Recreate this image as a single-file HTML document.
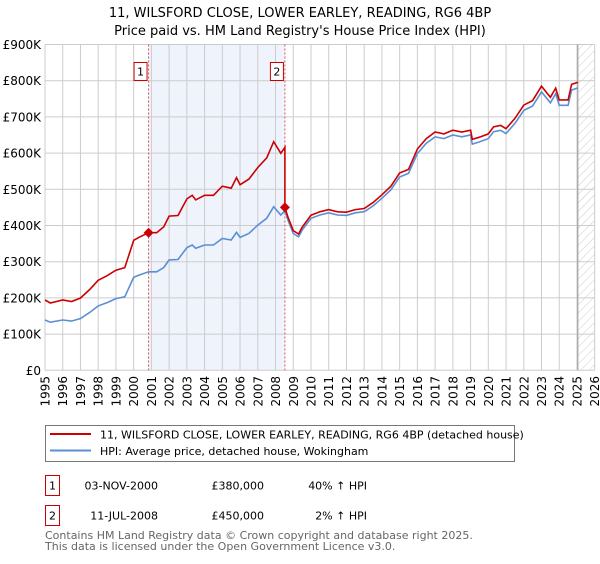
<!DOCTYPE html>
<html><head><meta charset="utf-8"><style>
body{margin:0;background:#fff;width:600px;height:560px;overflow:hidden;font-family:"DejaVu Sans","Liberation Sans",sans-serif;}
</style></head><body>
<svg id="chart" width="600" height="560" xmlns="http://www.w3.org/2000/svg" font-family="DejaVu Sans, Liberation Sans, sans-serif">
<text x="300" y="17" text-anchor="middle" font-size="13">11, WILSFORD CLOSE, LOWER EARLEY, READING, RG6 4BP</text>
<text x="300" y="35" text-anchor="middle" font-size="13">Price paid vs. HM Land Registry's House Price Index (HPI)</text>
<defs><pattern id="hatch" width="6" height="6" patternUnits="userSpaceOnUse" patternTransform="rotate(45)"><line x1="0" y1="0" x2="0" y2="6" stroke="#ccc" stroke-width="1"/></pattern></defs>
<g id="grid"></g><g id="marks"></g><g id="axes"></g>
<g>
<rect x="45.5" y="425.5" width="469" height="36" fill="#fff" stroke="#777"/>
<line x1="50" y1="434" x2="91" y2="434" stroke="#cc0000" stroke-width="2"/>
<text x="100" y="438.5" font-size="11">11, WILSFORD CLOSE, LOWER EARLEY, READING, RG6 4BP (detached house)</text>
<line x1="50" y1="450.5" x2="91" y2="450.5" stroke="#5b8fd4" stroke-width="2"/>
<text x="100" y="455" font-size="11">HPI: Average price, detached house, Wokingham</text>
</g>
<g font-size="11">
<rect x="45.5" y="475.5" width="14" height="20" fill="#fff" stroke="#cc0000"/>
<text x="52.5" y="489.5" text-anchor="middle">1</text>
<text x="158" y="489.5" text-anchor="end">03-NOV-2000</text>
<text x="264" y="489.5" text-anchor="end">£380,000</text>
<text x="367" y="489.5" text-anchor="end">40% ↑ HPI</text>
<rect x="45.5" y="505.5" width="14" height="20" fill="#fff" stroke="#cc0000"/>
<text x="52.5" y="519.5" text-anchor="middle">2</text>
<text x="158" y="519.5" text-anchor="end">11-JUL-2008</text>
<text x="264" y="519.5" text-anchor="end">£450,000</text>
<text x="367" y="519.5" text-anchor="end">2% ↑ HPI</text>
</g>
<text x="45" y="539" font-size="11" fill="#666">Contains HM Land Registry data © Crown copyright and database right 2025.</text>
<text x="45" y="550" font-size="11" fill="#666">This data is licensed under the Open Government Licence v3.0.</text>
</svg>
<script>
const hpiYears=[1995,1995.3,1996,1996.5,1997,1997.5,1998,1998.5,1999,1999.5,2000,2000.3,2000.84,2001.3,2001.7,2002,2002.5,2003,2003.3,2003.5,2004,2004.5,2005,2005.5,2005.8,2006,2006.5,2007,2007.5,2007.9,2008.3,2008.53,2008.7,2009,2009.3,2009.5,2010,2010.5,2011,2011.5,2012,2012.5,2013,2013.5,2014,2014.5,2015,2015.5,2016,2016.5,2017,2017.5,2018,2018.5,2019,2019.1,2019.5,2020,2020.3,2020.7,2021,2021.5,2022,2022.5,2023,2023.3,2023.5,2023.8,2024,2024.5,2024.7,2025.05];
const hpiValues=[139,133,139,136,143,159,178,187,198,203,257,263,272,272,284,305,306,339,346,337,346,346,364,360,381,367,378,401,420,452,429,441,415,378,369,387,420,429,435,429,428,435,438,454,475,498,534,544,599,627,645,640,650,645,650,625,631,640,659,663,654,682,718,730,769,751,739,764,732,732,774,780];
const saleDates=[2000.84,2008.53];
const salePrices=[380,450];
const saleLabels=["1","2"];
const yTicks=[0,100,200,300,400,500,600,700,800,900];
const yTickLabels=["£0","£100K","£200K","£300K","£400K","£500K","£600K","£700K","£800K","£900K"];
const xTicks=[1995,1996,1997,1998,1999,2000,2001,2002,2003,2004,2005,2006,2007,2008,2009,2010,2011,2012,2013,2014,2015,2016,2017,2018,2019,2020,2021,2022,2023,2024,2025,2026];
const dataEnd=2025.05;

const L=45,R=594.7,T=44.5,B=370.3;
const X=y=>L+(y-1995)/(2026-1995)*(R-L);
const Y=v=>B-v/900*(B-T);
const NS="http://www.w3.org/2000/svg";
function el(tag,attrs,parent){const e=document.createElementNS(NS,tag);for(const k in attrs)e.setAttribute(k,attrs[k]);parent.appendChild(e);return e;}
const grid=document.getElementById('grid'),marks=document.getElementById('marks'),axes=document.getElementById('axes');
function hpiAt(t){for(let i=1;i<hpiYears.length;i++){if(t<=hpiYears[i]){const f=(t-hpiYears[i-1])/(hpiYears[i]-hpiYears[i-1]);return hpiValues[i-1]+f*(hpiValues[i]-hpiValues[i-1]);}}return hpiValues[hpiValues.length-1];}

const span=el('rect',{x:X(saleDates[0]),y:T,width:X(saleDates[1])-X(saleDates[0]),height:B-T,fill:'#eef3fc'},grid);


const hatch=el('rect',{x:X(dataEnd),y:T,width:R-X(dataEnd),height:B-T,fill:'url(#hatch)'},grid);


yTicks.forEach((v,i)=>{
 const g=el('line',{x1:L,x2:R,y1:Y(v),y2:Y(v),stroke:'#ccc','stroke-width':1},grid);
 
 
 const t=el('text',{x:L-4,y:Y(v)+4.5,'text-anchor':'end','font-size':12},axes);
 t.textContent=yTickLabels[i];
 
 
});
xTicks.forEach(yr=>{
 const g=el('line',{x1:X(yr),x2:X(yr),y1:T,y2:B,stroke:'#ccc','stroke-width':1},grid);
 
 
 const tx=X(yr)+4.5, ty=376;
 const t=el('text',{x:tx,y:ty,'text-anchor':'end','font-size':12,transform:`rotate(-90 ${tx} ${ty})`},axes);
 t.textContent=yr;
 
 
});
const de=el('line',{x1:X(dataEnd),x2:X(dataEnd),y1:T,y2:B,stroke:'#999','stroke-width':1},grid);


saleDates.forEach((d,i)=>{
 const v=el('line',{x1:X(d),x2:X(d),y1:T,y2:B,stroke:'#e05050','stroke-width':1,'stroke-dasharray':'2,2'},marks);
 
 
 const r=el('rect',{x:X(d)-14.5,y:62.5,width:13,height:18,fill:'#fff',stroke:'#cc0000'},marks);
 
 
 const t=el('text',{x:X(d)-8,y:75.5,'text-anchor':'middle','font-size':11},marks);
 t.textContent=saleLabels[i];
 
 
});
const hp=el('path',{d:hpiYears.map((y,i)=>(i?'L':'M')+X(y).toFixed(1)+','+Y(hpiValues[i]).toFixed(1)).join(''),fill:'none',stroke:'#5b8fd4','stroke-width':1.6},marks);


const r1=salePrices[0]/hpiAt(saleDates[0]);
const r2=salePrices[1]/hpiAt(saleDates[1]);
const pts=[];
hpiYears.forEach((y,i)=>{
 if(y<saleDates[1]) pts.push([y,hpiValues[i]*r1]);
 else { if(y===saleDates[1]) pts.push([y,hpiAt(y)*r1]); pts.push([y,hpiValues[i]*r2]); }
});
const pp=el('path',{d:pts.map((p,i)=>(i?'L':'M')+X(p[0]).toFixed(1)+','+Y(p[1]).toFixed(1)).join(''),fill:'none',stroke:'#cc0000','stroke-width':1.6},marks);


saleDates.forEach((d,i)=>{
 const s=5;
 const p=el('path',{d:`M${X(d)},${Y(salePrices[i])-s}l${s},${s}l${-s},${s}l${-s},${-s}z`,fill:'#cc0000'},marks);
 
 
});
</script>
</body></html>
